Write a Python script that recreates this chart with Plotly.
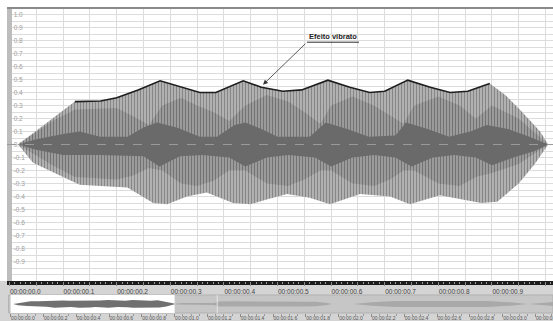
import plotly.graph_objects as go

# ---------------- data ----------------
# main view: outer envelope of the waveform (seconds, amplitude)
OUTER_UP_T = [0.016, 0.06, 0.122, 0.17, 0.2, 0.24, 0.281, 0.32, 0.355, 0.385, 0.436, 0.47, 0.51,
              0.545, 0.594, 0.635, 0.672, 0.7, 0.743, 0.785, 0.822, 0.855, 0.896, 0.925, 0.952, 0.99, 1.005]
OUTER_UP = [0.0, 0.135, 0.33, 0.335, 0.36, 0.42, 0.49, 0.44, 0.40, 0.40, 0.49, 0.44, 0.41,
            0.42, 0.495, 0.44, 0.40, 0.41, 0.495, 0.44, 0.40, 0.41, 0.47, 0.38, 0.27, 0.10, 0.0]
OUTER_LO_T = [0.016, 0.044, 0.1, 0.131, 0.17, 0.22, 0.268, 0.294, 0.331, 0.368, 0.417, 0.449, 0.483,
              0.518, 0.56, 0.598, 0.654, 0.71, 0.747, 0.803, 0.84, 0.88, 0.91, 0.95, 0.98, 1.005]
OUTER_LO = [0.0, -0.14, -0.25, -0.31, -0.32, -0.33, -0.45, -0.46, -0.40, -0.37, -0.45, -0.46, -0.42,
            -0.38, -0.41, -0.46, -0.38, -0.40, -0.46, -0.39, -0.42, -0.45, -0.44, -0.30, -0.15, 0.0]

# darker striped zone
MID_T = [0.016, 0.08, 0.122, 0.2, 0.23, 0.26, 0.285, 0.32, 0.35, 0.38, 0.41, 0.44, 0.48, 0.52,
         0.55, 0.58, 0.6, 0.64, 0.68, 0.71, 0.735, 0.755, 0.8, 0.84, 0.87, 0.9, 0.95, 1.005]
MID_UP = [0.0, 0.18, 0.27, 0.28, 0.22, 0.15, 0.30, 0.36, 0.30, 0.25, 0.18, 0.30, 0.38, 0.33,
          0.25, 0.16, 0.30, 0.37, 0.30, 0.22, 0.16, 0.30, 0.37, 0.30, 0.20, 0.30, 0.20, 0.0]
MID_LO = [0.0, -0.16, -0.25, -0.27, -0.24, -0.18, -0.20, -0.30, -0.32, -0.28, -0.20, -0.20, -0.30, -0.32,
          -0.27, -0.20, -0.20, -0.30, -0.32, -0.27, -0.20, -0.20, -0.30, -0.32, -0.25, -0.22, -0.15, 0.0]

# solid dark core
CORE_UP_T = [0.016, 0.05, 0.1, 0.131, 0.169, 0.22, 0.25, 0.275, 0.312, 0.355, 0.387, 0.42, 0.44, 0.47,
             0.5, 0.56, 0.59, 0.63, 0.67, 0.72, 0.74, 0.78, 0.82, 0.86, 0.89, 0.93, 0.97, 1.005]
CORE_UP = [0.0, 0.04, 0.08, 0.10, 0.06, 0.06, 0.13, 0.17, 0.13, 0.06, 0.06, 0.15, 0.17, 0.12,
           0.06, 0.06, 0.17, 0.12, 0.06, 0.07, 0.17, 0.12, 0.06, 0.10, 0.15, 0.12, 0.06, 0.0]
CORE_LO_T = [0.016, 0.05, 0.1, 0.169, 0.25, 0.28, 0.318, 0.36, 0.41, 0.44, 0.48, 0.52, 0.57, 0.6,
             0.64, 0.68, 0.72, 0.75, 0.79, 0.83, 0.87, 0.9, 0.94, 0.98, 1.005]
CORE_LO = [0.0, -0.04, -0.08, -0.08, -0.09, -0.17, -0.09, -0.08, -0.10, -0.17, -0.10, -0.08, -0.10, -0.17,
           -0.10, -0.08, -0.10, -0.17, -0.10, -0.08, -0.10, -0.16, -0.10, -0.05, 0.0]

# "Efeito vibrato" outline spans these times
VIBRATO_START = 0.122
VIBRATO_END = 0.896
LABEL_TEXT = "Efeito vibrato"
LABEL_POS = (0.604, 0.83)
UNDERLINE = (0.555, 0.652, 0.787)
ARROW_TIP = (0.473, 0.46)

Y_TICK_VALUES = [1.0, 0.9, 0.8, 0.7, 0.6, 0.5, 0.4, 0.3, 0.2, 0.1, 0.0,
                 -0.1, -0.2, -0.3, -0.4, -0.5, -0.6, -0.7, -0.8, -0.9]
Y_TICK_TEXT = ["1.0", "0.9", "0.8", "0.7", "0.6", "0.5", "0.4", "0.3", "0.2", "0.1", "0.0",
               "-0.1", "-0.2", "-0.3", "-0.4", "-0.5", "-0.6", "-0.7", "-0.8", "-0.9"]
X_TICK_VALUES = [0.0, 0.05, 0.1, 0.15, 0.2, 0.25, 0.3, 0.35, 0.4, 0.45, 0.5,
                 0.55, 0.6, 0.65, 0.7, 0.75, 0.8, 0.85, 0.9, 0.95, 1.0]
X_TICK_TEXT = ["00:00:00.0", "", "00:00:00.1", "", "00:00:00.2", "", "00:00:00.3", "",
               "00:00:00.4", "", "00:00:00.5", "", "00:00:00.6", "", "00:00:00.7", "",
               "00:00:00.8", "", "00:00:00.9", "", ""]

# overview strip (whole file)
VIEW_WINDOW = [0.0, 1.0]
CURSOR_T = 1.26
SEG2_T = [1.01, 1.05, 1.24, 1.27, 1.35, 1.55, 1.75, 1.86, 1.93, 1.96]
SEG2_A = [0.05, 0.12, 0.12, 0.30, 0.33, 0.33, 0.32, 0.28, 0.12, 0.0]
SEG3_T = [2.09, 2.2, 2.35, 2.6, 2.9, 3.05, 3.15]
SEG3_A = [0.0, 0.22, 0.36, 0.38, 0.36, 0.20, 0.0]
SEG4_T = [3.16, 3.25, 3.31]
SEG4_A = [0.0, 0.15, 0.25]
OV_TICK_VALUES = [0.0, 0.2, 0.4, 0.6, 0.8, 1.0, 1.2, 1.4, 1.6, 1.8, 2.0, 2.2, 2.4, 2.6, 2.8, 3.0, 3.2]
OV_TICK_TEXT = ["00:00:00.0", "00:00:00.2", "00:00:00.4", "00:00:00.6", "00:00:00.8",
                "00:00:01.0", "00:00:01.2", "00:00:01.4", "00:00:01.6", "00:00:01.8",
                "00:00:02.0", "00:00:02.2", "00:00:02.4", "00:00:02.6", "00:00:02.8",
                "00:00:03.0", "00:00:03.2"]

# ---------------- figure ----------------
W, H = 553, 321
ML, MR, MT, MB = 7, 0, 8, 8
PH = H - MT - MB
MAIN_BOTTOM = (313 - 281) / PH
OV_TOP = 18 / PH
FONT = "Liberation Sans"


def band(t_up, up, t_lo, lo):
    return list(t_up) + list(reversed(t_lo)), list(up) + list(reversed(lo))


fig = go.Figure()

bx, by = band(OUTER_UP_T, OUTER_UP, OUTER_LO_T, OUTER_LO)
fig.add_trace(go.Scatter(x=bx, y=by, fill="toself", mode="lines", line=dict(width=0),
                         fillcolor="#bcbcbc",
                         fillpattern=dict(shape="|", size=3, solidity=0.5,
                                          fgcolor="#868686", bgcolor="#c0c0c0", fillmode="replace"),
                         hoverinfo="skip", showlegend=False))
bx, by = band(MID_T, MID_UP, MID_T, MID_LO)
fig.add_trace(go.Scatter(x=bx, y=by, fill="toself", mode="lines", line=dict(width=0),
                         fillcolor="#9a9a9a",
                         fillpattern=dict(shape="|", size=3, solidity=0.5,
                                          fgcolor="#737373", bgcolor="#a8a8a8", fillmode="replace"),
                         hoverinfo="skip", showlegend=False))
bx, by = band(CORE_UP_T, CORE_UP, CORE_LO_T, CORE_LO)
fig.add_trace(go.Scatter(x=bx, y=by, fill="toself", mode="lines", line=dict(width=0),
                         fillcolor="#6a6a6a", hoverinfo="skip", showlegend=False))

vt = [t for t in OUTER_UP_T if VIBRATO_START <= t <= VIBRATO_END]
vv = [v for t, v in zip(OUTER_UP_T, OUTER_UP) if VIBRATO_START <= t <= VIBRATO_END]
fig.add_trace(go.Scatter(x=vt, y=vv, mode="lines", line=dict(color="#1e1e1e", width=1.6),
                         hoverinfo="skip", showlegend=False))

# overview waveforms
bx, by = band(OUTER_UP_T, OUTER_UP, OUTER_LO_T, OUTER_LO)
fig.add_trace(go.Scatter(x=bx, y=by, xaxis="x2", yaxis="y2", fill="toself", mode="lines",
                         line=dict(width=0), fillcolor="#707070", hoverinfo="skip", showlegend=False))
for st, sa in [(SEG2_T, SEG2_A), (SEG3_T, SEG3_A), (SEG4_T, SEG4_A)]:
    bx, by = band(st, sa, st, [-a for a in sa])
    fig.add_trace(go.Scatter(x=bx, y=by, xaxis="x2", yaxis="y2", fill="toself", mode="lines",
                             line=dict(width=0), fillcolor="#a9a9a9", hoverinfo="skip",
                             showlegend=False))

shapes = [
    # lower panel background
    dict(type="rect", xref="paper", yref="paper", x0=-ML / (W - ML), x1=1, y0=-MB / PH, y1=MAIN_BOTTOM,
         fillcolor="#d4d4d4", line=dict(width=0), layer="below"),
    # black time bar
    dict(type="rect", xref="paper", yref="paper", x0=0, x1=1, y0=MAIN_BOTTOM - 4 / PH, y1=MAIN_BOTTOM,
         fillcolor="#1c1c1c", line=dict(width=0), layer="below"),
    # overview panel
    dict(type="rect", xref="paper", yref="paper", x0=0.003, x1=1, y0=0, y1=OV_TOP,
         fillcolor="#c6c6c6", line=dict(color="#b0b0b0", width=1), layer="below"),
    dict(type="rect", xref="x2", yref="paper", x0=VIEW_WINDOW[0], x1=VIEW_WINDOW[1], y0=0, y1=OV_TOP,
         fillcolor="#ffffff", line=dict(width=0), layer="below"),
    dict(type="line", xref="x2", yref="paper", x0=CURSOR_T, x1=CURSOR_T, y0=0, y1=OV_TOP,
         line=dict(color="#e6e6e6", width=1), layer="above"),
    # left amplitude strip
    dict(type="rect", xref="paper", yref="paper", x0=0, x1=5 / (W - ML), y0=MAIN_BOTTOM, y1=1,
         fillcolor="#bdbdbd", line=dict(width=0), layer="above"),
    # top border
    dict(type="line", xref="paper", yref="paper", x0=0, x1=1, y0=1, y1=1,
         line=dict(color="#8a8a8a", width=2)),
    # dashed zero line
    dict(type="line", xref="paper", yref="y", x0=0, x1=1, y0=0, y1=0,
         line=dict(color="#9a9a9a", width=1, dash="dash"), layer="above"),
    # label underline
    dict(type="line", xref="x", yref="y", x0=UNDERLINE[0], x1=UNDERLINE[1], y0=UNDERLINE[2],
         y1=UNDERLINE[2], line=dict(color="#2a2a2a", width=1)),
]

annotations = [
    dict(x=LABEL_POS[0], y=LABEL_POS[1], xref="x", yref="y", text="<b>" + LABEL_TEXT + "</b>",
         showarrow=False, font=dict(family=FONT, size=7.5, color="#222")),
    dict(x=ARROW_TIP[0], y=ARROW_TIP[1], xref="x", yref="y", ax=UNDERLINE[0], ay=UNDERLINE[2],
         axref="x", ayref="y", text="", showarrow=True, arrowhead=2, arrowsize=1.2,
         arrowwidth=0.8, arrowcolor="#333"),
]

fig.update_layout(
    width=W, height=H,
    margin=dict(l=ML, r=MR, t=MT, b=MB, pad=0, autoexpand=False),
    paper_bgcolor="#ffffff", plot_bgcolor="rgba(0,0,0,0)",
    shapes=shapes, annotations=annotations,
    xaxis=dict(domain=[0, 1], anchor="y", range=[-0.00466, 1.014], automargin=False,
               tickmode="array", tickvals=X_TICK_VALUES, ticktext=X_TICK_TEXT, tickangle=0,
               ticks="outside", ticklen=4, tickcolor="#8c8c8c", tickwidth=1,
               ticklabelposition="outside right", ticklabelstandoff=4, ticklabeloverflow="allow",
               tickfont=dict(family=FONT, size=6.5, color="#444"),
               showgrid=True, gridcolor="#dcdcdc", gridwidth=1,
               minor=dict(ticks="outside", dtick=0.01, ticklen=2, tickcolor="#9a9a9a", showgrid=False),
               zeroline=False, showline=False),
    yaxis=dict(domain=[MAIN_BOTTOM, 1], anchor="x", range=[-1.05, 1.05], automargin=False,
               tickmode="array", tickvals=Y_TICK_VALUES, ticktext=Y_TICK_TEXT,
               ticks="inside", ticklen=5, tickcolor="#bdbdbd",
               ticklabelposition="inside", ticklabeloverflow="allow",
               tickfont=dict(family=FONT, size=6.5, color="#a0a0a0"),
               showgrid=True, gridcolor="#dcdcdc", gridwidth=1,
               minor=dict(dtick=0.05, tick0=0.05, showgrid=True, gridcolor="#dcdcdc", gridwidth=1),
               zeroline=False, showline=False),
    xaxis2=dict(domain=[0, 1], anchor="y2", range=[-0.022, 3.307], automargin=False,
                tickmode="array", tickvals=OV_TICK_VALUES, ticktext=OV_TICK_TEXT, tickangle=0,
                ticks="outside", ticklen=3, tickcolor="#8c8c8c",
                ticklabelposition="outside right", ticklabeloverflow="allow",
                tickfont=dict(family=FONT, size=5, color="#555"),
                minor=dict(ticks="outside", dtick=0.05, ticklen=1.5, tickcolor="#9a9a9a"),
                showgrid=False, zeroline=False, showline=False),
    yaxis2=dict(domain=[0, OV_TOP], anchor="x2", range=[-1.1, 1.1], visible=False, automargin=False),
)

fig.write_html("out.html")
